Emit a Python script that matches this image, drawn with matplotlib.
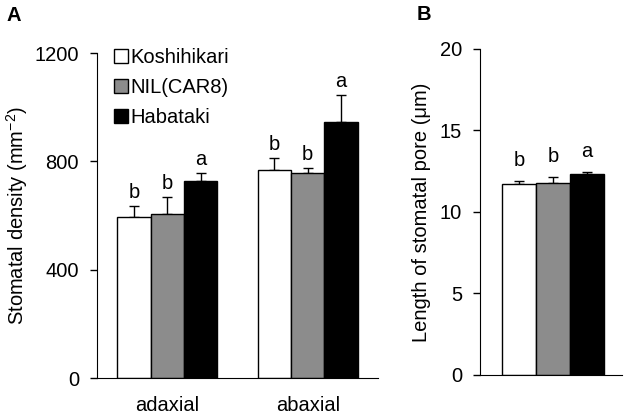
import matplotlib
matplotlib.use("Agg")
import matplotlib.pyplot as plt
import numpy as np

plt.rcParams['font.family'] = ['Liberation Sans', 'DejaVu Sans']
plt.rcParams['mathtext.default'] = 'regular'

# data
cultivars = ["Koshihikari", "NIL(CAR8)", "Habataki"]
colors = ["white", "#8c8c8c", "black"]
sides = ["adaxial", "abaxial"]

density_mean = [[595, 770], [607, 758], [726, 945]]   # per cultivar, per side
density_err = [[41, 43], [62, 18], [32, 100]]
density_letters = [["b", "b"], ["b", "b"], ["a", "a"]]

pore_mean = [11.7, 11.8, 12.3]
pore_err = [0.17, 0.32, 0.13]
pore_letters = ["b", "b", "a"]

fs = 14.5

fig = plt.figure(figsize=(6.3, 4.16), dpi=100)
axA = fig.add_axes([0.154, 0.0913, 0.446, 0.781])
axB = fig.add_axes([0.762, 0.0986, 0.225, 0.784])

w = 0.238
x = np.arange(len(sides))

for i, name in enumerate(cultivars):
    pos = x + (i - 1) * w
    axA.bar(pos, density_mean[i], w, color=colors[i], edgecolor="black",
            linewidth=1, label=name, zorder=2)
    axA.errorbar(pos, density_mean[i], yerr=[np.zeros(len(sides)), density_err[i]],
                 fmt="none", ecolor="black", elinewidth=1, capsize=3.5,
                 capthick=1, zorder=1)
    for p, m, e, lt in zip(pos, density_mean[i], density_err[i], density_letters[i]):
        axA.annotate(lt, (p, m + e), xytext=(0, 3), textcoords="offset points",
                     ha="center", va="bottom", fontsize=fs)

axA.set_xlim(-0.5, 1.5)
axA.set_ylim(0, 1200)
axA.set_yticks([0, 400, 800, 1200])
axA.set_xticks(x)
axA.set_xticklabels(sides)
axA.tick_params(axis="x", length=0, pad=13, labelsize=fs)
axA.tick_params(axis="y", direction="out", length=5, width=1, pad=8, labelsize=fs)
axA.set_ylabel(r"Stomatal density (mm$^{-2}$)", fontsize=fs)
axA.yaxis.set_label_coords(-0.24, 0.5)
for s in ["top", "right"]:
    axA.spines[s].set_visible(False)
axA.legend(loc="upper left", bbox_to_anchor=(0.03, 1.04), frameon=False,
           fontsize=fs, handlelength=0.7, handleheight=0.7,
           handletextpad=0.15, labelspacing=0.55, borderaxespad=0)

xb = (np.arange(len(cultivars)) - 1) * 0.241
wb = 0.241
for i in range(len(cultivars)):
    axB.bar(xb[i], pore_mean[i], wb, color=colors[i], edgecolor="black",
            linewidth=1, zorder=2)
    axB.errorbar(xb[i], pore_mean[i], yerr=[[0], [pore_err[i]]], fmt="none",
                 ecolor="black", elinewidth=1, capsize=3.5, capthick=1, zorder=1)
    axB.annotate(pore_letters[i], (xb[i], pore_mean[i] + pore_err[i]),
                 xytext=(0, 8), textcoords="offset points",
                 ha="center", va="bottom", fontsize=fs)

axB.set_xlim(-0.518, 0.487)
axB.set_ylim(0, 20)
axB.set_yticks([0, 5, 10, 15, 20])
axB.set_xticks([])
axB.tick_params(axis="y", direction="out", length=5, width=1, pad=8, labelsize=fs)
axB.set_ylabel("Length of stomatal pore (μm)", fontsize=fs)
axB.yaxis.set_label_coords(-0.345, 0.5)
for s in ["top", "right"]:
    axB.spines[s].set_visible(False)

fig.text(0.011, 0.962, "A", fontsize=fs, fontweight="bold", va="center")
fig.text(0.662, 0.964, "B", fontsize=fs, fontweight="bold", va="center")

fig.savefig("out.png", dpi=100)
